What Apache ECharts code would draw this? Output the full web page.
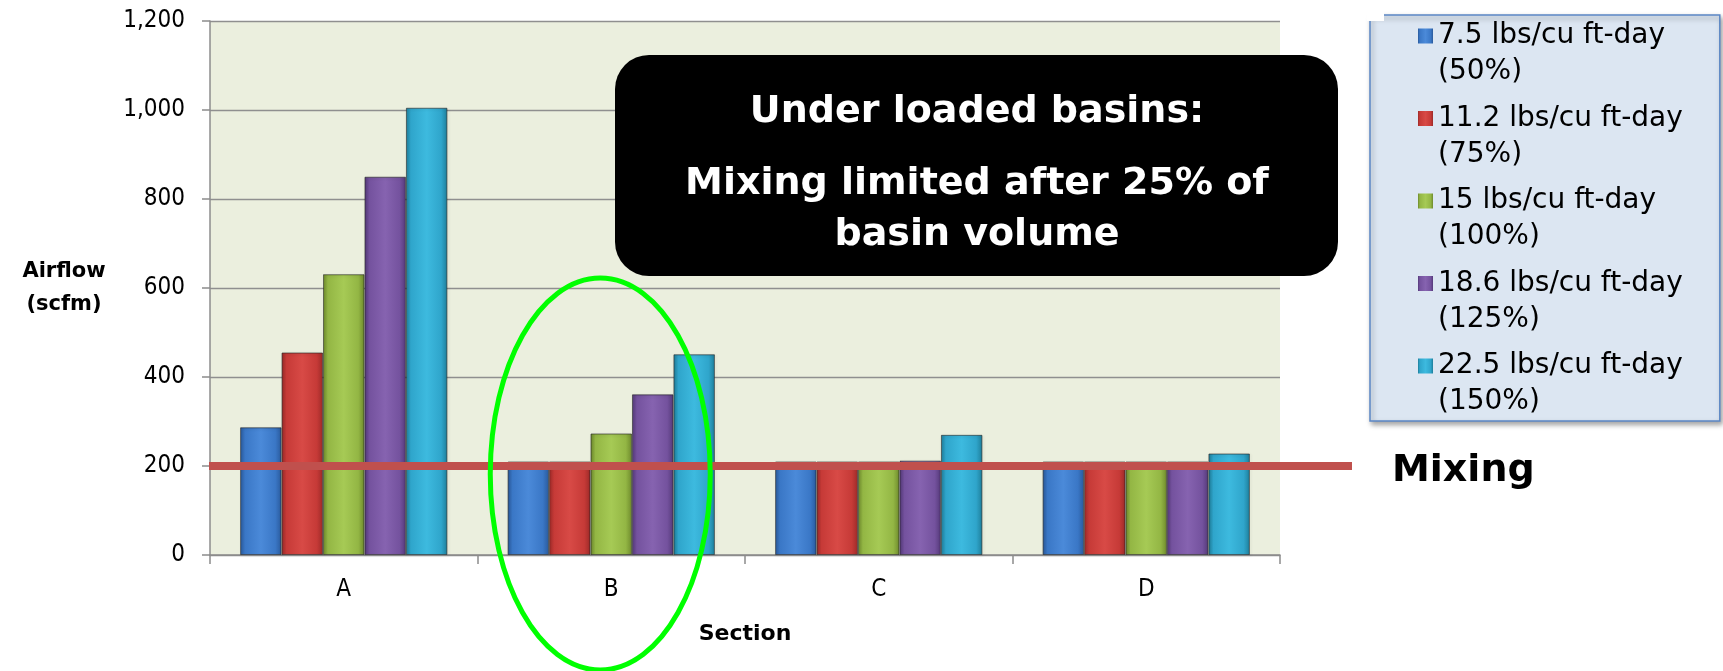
<!DOCTYPE html>
<html>
<head>
<meta charset="utf-8">
<script src="https://cdn.jsdelivr.net/npm/echarts@6/dist/echarts.min.js"></script>
<style>
  html, body { margin: 0; padding: 0; background: #ffffff; }
  #chart { width: 1723px; height: 671px; }
</style>
</head>
<body>
<div id="chart"></div>
<script>
// Airflow (scfm) per basin section, for five solids loading rates
const CATEGORIES = ['A', 'B', 'C', 'D'];
const SERIES_NAMES = [
  '7.5 lbs/cu ft-day\n(50%)',
  '11.2 lbs/cu ft-day\n(75%)',
  '15 lbs/cu ft-day\n(100%)',
  '18.6 lbs/cu ft-day\n(125%)',
  '22.5 lbs/cu ft-day\n(150%)'
];
const LOAD_50  = [287, 210, 210, 210];
const LOAD_75  = [455, 210, 210, 210];
const LOAD_100 = [631, 273, 210, 210];
const LOAD_125 = [850, 361, 212, 210];
const LOAD_150 = [1005, 451, 270, 228];
const MIXING_LEVEL = 200;
const Y_TICKS = [0, 200, 400, 600, 800, 1000, 1200];
const NOTE_LINES = ['Under loaded basins:', 'Mixing limited after 25% of', 'basin volume'];
const MIXING_LABEL = 'Mixing';

// bevel-like shading per series: [edge, base, highlight]
const SHADES = [
  ['#2a5a9c', '#3a77c6', '#4b8ad9'],
  ['#9c2a28', '#c63a37', '#d84a46'],
  ['#6e8a2c', '#93b644', '#a6ca55'],
  ['#553a7a', '#74529e', '#8663b0'],
  ['#1e7e9a', '#2fa5cb', '#3dbadf']
];

function bevel(s) {
  return {
    type: 'linear', x: 0, y: 0, x2: 1, y2: 0,
    colorStops: [
      { offset: 0, color: s[0] },
      { offset: 0.12, color: s[1] },
      { offset: 0.5, color: s[2] },
      { offset: 0.85, color: s[1] },
      { offset: 1, color: s[0] }
    ]
  };
}

const FONT = 'DejaVu Sans';
const TICK_FONT = '"DejaVu Sans Condensed", "DejaVu Sans"';
const VALUES = [LOAD_50, LOAD_75, LOAD_100, LOAD_125, LOAD_150];

const chart = echarts.init(document.getElementById('chart'), null, { renderer: 'canvas' });

const series = VALUES.map((vals, i) => ({
  name: SERIES_NAMES[i],
  type: 'bar',
  data: vals,
  barGap: '0%',
  barCategoryGap: '22.5%',
  itemStyle: {
    color: bevel(SHADES[i]),
    borderColor: 'rgba(40,40,40,0.35)',
    borderWidth: 1,
    shadowColor: 'rgba(0,0,0,0.25)',
    shadowBlur: 3,
    shadowOffsetX: 1,
    shadowOffsetY: 1
  },
  emphasis: { disabled: true },
  animation: false
}));

chart.setOption({
  animation: false,
  textStyle: { fontFamily: FONT },
  grid: {
    left: 210, right: 443, top: 21, bottom: 116,
    show: true, backgroundColor: '#EBEFDE', borderWidth: 0,
    outerBoundsMode: 'none'
  },
  legend: {
    orient: 'vertical',
    left: 1370, top: 15,
    padding: [3, 37, 1, 48],
    itemGap: 10.5,
    itemWidth: 15,
    itemHeight: 72,
    icon: 'path://M0,10.5L15,10.5L15,25.5L0,25.5Z M0,0L0.01,0 M0,72L0.01,72',
    itemStyle: { borderWidth: 0 },
    selectedMode: false,
    backgroundColor: '#DCE6F2',
    borderColor: '#5B87C5',
    borderWidth: 1.5,
    shadowColor: 'rgba(0,0,0,0.35)',
    shadowBlur: 5,
    shadowOffsetX: 2,
    shadowOffsetY: 3,
    textStyle: { fontFamily: FONT, fontSize: 28, lineHeight: 36, color: '#000' },
    data: SERIES_NAMES
  },
  xAxis: {
    type: 'category',
    data: CATEGORIES,
    name: 'Section',
    nameLocation: 'middle',
    nameGap: 68,
    nameTextStyle: { fontFamily: FONT, fontSize: 22, fontWeight: 'bold', color: '#000' },
    axisLine: { lineStyle: { color: '#8c8c8c', width: 1.5 } },
    axisTick: { show: true, length: 9, lineStyle: { color: '#8c8c8c', width: 1.5 } },
    axisLabel: { margin: 23, fontFamily: TICK_FONT, fontSize: 24, color: '#000' }
  },
  yAxis: {
    type: 'value',
    min: Y_TICKS[0],
    max: Y_TICKS[Y_TICKS.length - 1],
    interval: Y_TICKS[1] - Y_TICKS[0],
    name: 'Airflow\n(scfm)',
    nameLocation: 'middle',
    nameRotate: 0,
    nameGap: 146,
    nameTextStyle: {
      fontFamily: FONT, fontSize: 21, fontWeight: 'bold', color: '#000',
      lineHeight: 33, align: 'center', verticalAlign: 'middle'
    },
    axisLine: { show: true, lineStyle: { color: '#8c8c8c', width: 1.5 } },
    axisTick: { show: true, length: 8, lineStyle: { color: '#8c8c8c', width: 1.5 } },
    axisLabel: {
      margin: 25, fontFamily: TICK_FONT, fontSize: 24, color: '#000',
      formatter: v => v.toLocaleString('en-US')
    },
    splitLine: { show: true, lineStyle: { color: '#8f8f8f', width: 1.3 } }
  },
  series: series
});

// annotations placed from the axes' own scales
const mixY = chart.convertToPixel({ yAxisIndex: 0 }, MIXING_LEVEL);
const bandB = chart.convertToPixel({ xAxisIndex: 0 }, 'B');
const NOTE_FONT = 'bold 38px "DejaVu Sans"';

chart.setOption({
  graphic: [
    {
      type: 'line', z: 20,
      shape: { x1: 209, y1: mixY, x2: 1352, y2: mixY },
      style: { stroke: '#C0504D', lineWidth: 8 }
    },
    {
      type: 'text', z: 20,
      x: 1392, y: mixY + 5,
      style: {
        text: MIXING_LABEL, fill: '#000', font: NOTE_FONT,
        textAlign: 'left', textVerticalAlign: 'middle'
      }
    },
    {
      type: 'ellipse', z: 30,
      shape: { cx: bandB - 11, cy: 474, rx: 110, ry: 196 },
      style: { fill: 'none', stroke: '#00FF00', lineWidth: 5 }
    },
    {
      type: 'group', z: 25,
      children: [
        {
          type: 'rect',
          shape: { x: 615, y: 55, width: 723, height: 221, r: 34 },
          style: { fill: '#000000' }
        },
        {
          type: 'text', x: 977, y: 112,
          style: { text: NOTE_LINES[0], fill: '#fff', font: NOTE_FONT, textAlign: 'center', textVerticalAlign: 'middle' }
        },
        {
          type: 'text', x: 977, y: 184,
          style: { text: NOTE_LINES[1], fill: '#fff', font: NOTE_FONT, textAlign: 'center', textVerticalAlign: 'middle' }
        },
        {
          type: 'text', x: 977, y: 235,
          style: { text: NOTE_LINES[2], fill: '#fff', font: NOTE_FONT, textAlign: 'center', textVerticalAlign: 'middle' }
        }
      ]
    },
    {
      type: 'rect', z: 40,
      shape: { x: 1367, y: 9, width: 17, height: 12 },
      style: { fill: '#ffffff' }
    }
  ]
});
</script>
</body>
</html>
